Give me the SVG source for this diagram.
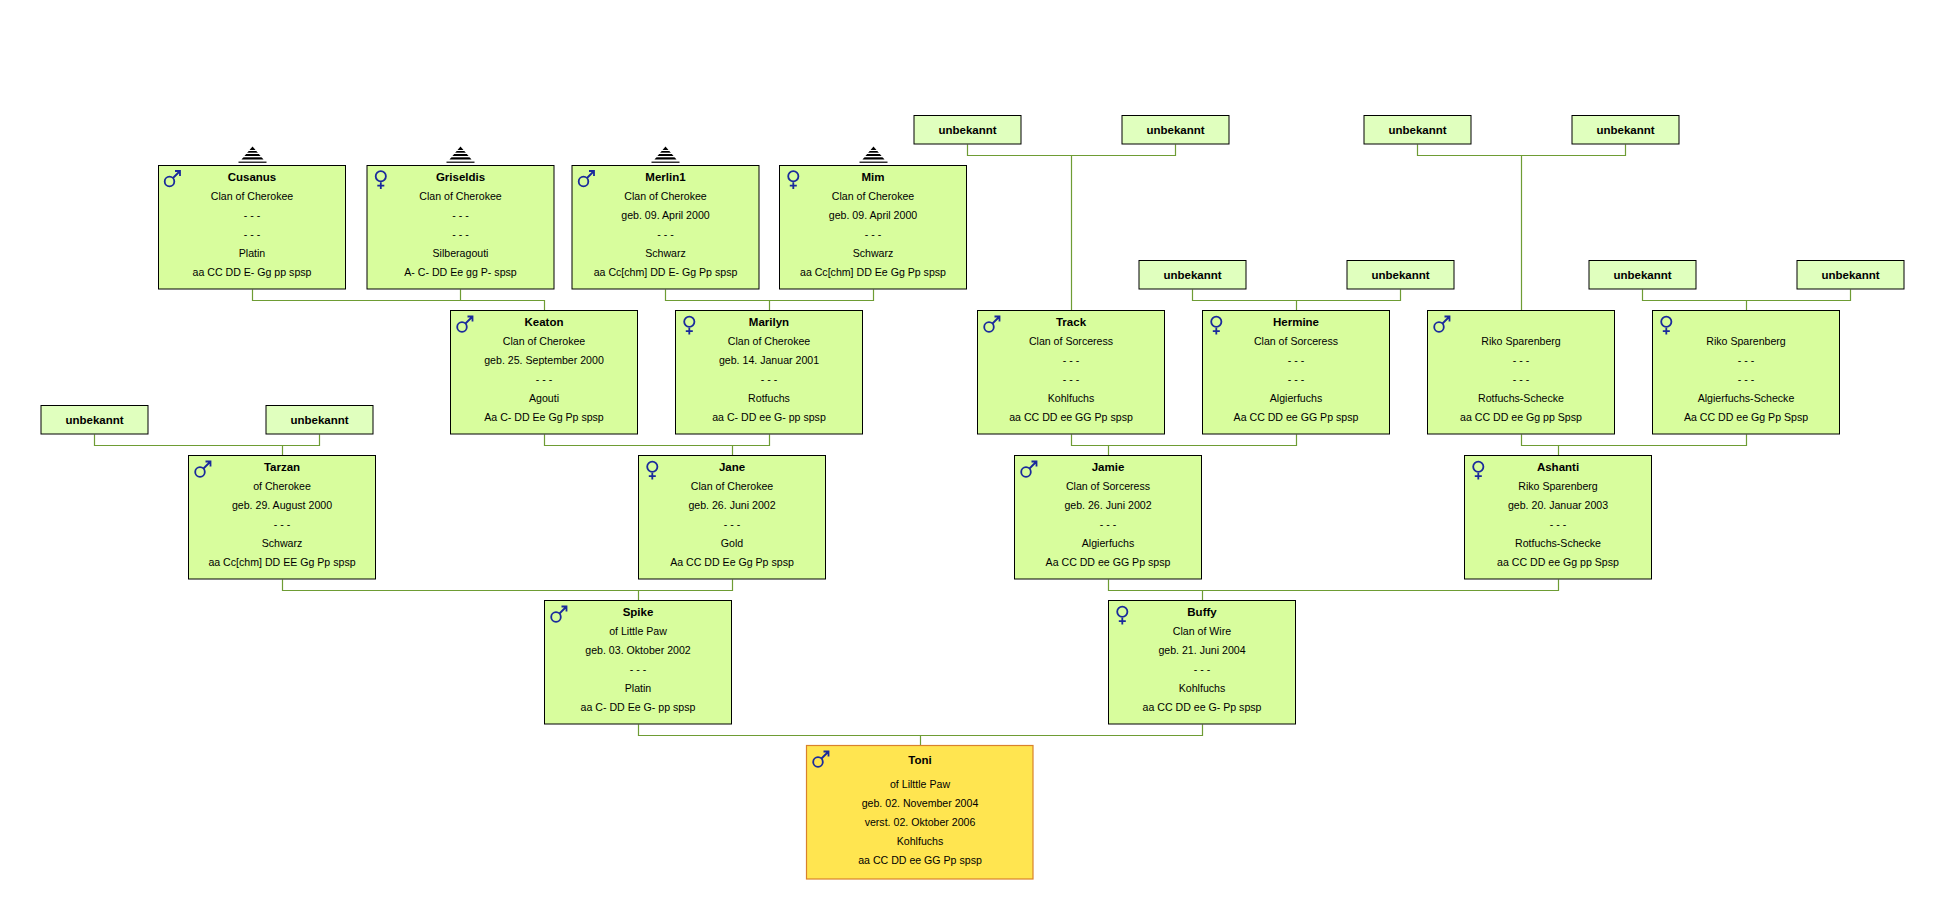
<svg xmlns="http://www.w3.org/2000/svg" xmlns:xlink="http://www.w3.org/1999/xlink" width="1944" height="900" viewBox="0 0 1944 900">
<style>
.box{fill:#d8fd9d;stroke:#000;stroke-width:1}
.ubox{fill:#e0ffbe;stroke:#000;stroke-width:1}
.tbox{fill:#ffe550;stroke:#d9822b;stroke-width:1.2}
.t{font-family:"Liberation Sans",Arial,sans-serif;font-size:10.6px;fill:#000;text-anchor:middle}
.n{font-family:"Liberation Sans",Arial,sans-serif;font-size:11.5px;font-weight:bold;fill:#000;text-anchor:middle}
.c{fill:none;stroke:#6e9c34;stroke-width:1.2}
.sym{fill:none;stroke:#1a2a9c;stroke-width:1.8}
</style>
<defs>
<g id="male" class="sym"><circle cx="11.5" cy="16.5" r="4.8"/><path d="M15 13 L22 6 M17 6 H22 V11"/></g>
<g id="female" class="sym"><circle cx="13.8" cy="11.2" r="5.1"/><path d="M13.8 17.2 V24 M10.3 20.6 H17.3"/></g>
<g id="stack"><polygon points="0,-18.5 -11,-5.6 11,-5.6" fill="#000"/><rect x="-12" y="-15" width="24" height="1" fill="#fff"/><rect x="-12" y="-12.3" width="24" height="1.3" fill="#fff"/><rect x="-12" y="-9" width="24" height="1.3" fill="#fff"/><rect x="-14" y="-3.4" width="28" height="1.2" fill="#000"/></g>
</defs>
<rect width="1944" height="900" fill="#fff"/>
<g id="connectors">
<path class="c" d="M967.5 144.5 V155.5 H1175.5 V144.5 M1071.5 155.5 V310.5"/>
<path class="c" d="M1417.5 144.5 V155.5 H1625.5 V144.5 M1521.5 155.5 V310.5"/>
<path class="c" d="M252.5 289.5 V300.5 H544.5 V310.5 M460.5 289.5 V300.5"/>
<path class="c" d="M665.5 289.5 V300.5 H873.5 V289.5 M769.5 300.5 V310.5"/>
<path class="c" d="M1192.5 289.5 V300.5 H1400.5 V289.5 M1296.5 300.5 V310.5"/>
<path class="c" d="M1642.5 289.5 V300.5 H1850.5 V289.5 M1746.5 300.5 V310.5"/>
<path class="c" d="M94.5 434.5 V445.5 H319.5 V434.5 M282.5 445.5 V455.5"/>
<path class="c" d="M544.5 434.5 V445.5 H769.5 V434.5 M732.5 445.5 V455.5"/>
<path class="c" d="M1071.5 434.5 V445.5 H1296.5 V434.5 M1108.5 445.5 V455.5"/>
<path class="c" d="M1521.5 434.5 V445.5 H1746.5 V434.5 M1558.5 445.5 V455.5"/>
<path class="c" d="M282.5 579.5 V590.5 H732.5 V579.5 M638.5 590.5 V600.5"/>
<path class="c" d="M1108.5 579.5 V590.5 H1558.5 V579.5 M1202.5 590.5 V600.5"/>
<path class="c" d="M638.5 724.5 V735.5 H1202.5 V724.5 M920.5 735.5 V745.5"/>
</g>

<g id="u-track-f"><rect class="ubox" x="914" y="115.5" width="107" height="28.5"/><text class="n" x="967.5" y="134">unbekannt</text></g>
<g id="u-track-m"><rect class="ubox" x="1122" y="115.5" width="107" height="28.5"/><text class="n" x="1175.5" y="134">unbekannt</text></g>
<g id="u-riko1-f"><rect class="ubox" x="1364" y="115.5" width="107" height="28.5"/><text class="n" x="1417.5" y="134">unbekannt</text></g>
<g id="u-riko1-m"><rect class="ubox" x="1572" y="115.5" width="107" height="28.5"/><text class="n" x="1625.5" y="134">unbekannt</text></g>
<g id="u-hermine-f"><rect class="ubox" x="1139" y="260.5" width="107" height="28.5"/><text class="n" x="1192.5" y="279">unbekannt</text></g>
<g id="u-hermine-m"><rect class="ubox" x="1347" y="260.5" width="107" height="28.5"/><text class="n" x="1400.5" y="279">unbekannt</text></g>
<g id="u-riko2-f"><rect class="ubox" x="1589" y="260.5" width="107" height="28.5"/><text class="n" x="1642.5" y="279">unbekannt</text></g>
<g id="u-riko2-m"><rect class="ubox" x="1797" y="260.5" width="107" height="28.5"/><text class="n" x="1850.5" y="279">unbekannt</text></g>
<g id="u-tarzan-f"><rect class="ubox" x="41" y="405.5" width="107" height="28.5"/><text class="n" x="94.5" y="424">unbekannt</text></g>
<g id="u-tarzan-m"><rect class="ubox" x="266" y="405.5" width="107" height="28.5"/><text class="n" x="319.5" y="424">unbekannt</text></g>

<g id="cusanus"><use xlink:href="#stack" x="252.5" y="165"/><rect class="box" x="158.5" y="165.5" width="187" height="123.5"/><use xlink:href="#male" x="158" y="165"/>
<text class="n" x="252" y="181">Cusanus</text><text class="t" x="252" y="200">Clan of Cherokee</text><text class="t" x="252" y="219">- - -</text><text class="t" x="252" y="238">- - -</text><text class="t" x="252" y="257">Platin</text><text class="t" x="252" y="276">aa CC DD E- Gg pp spsp</text></g>

<g id="griseldis"><use xlink:href="#stack" x="460.5" y="165"/><rect class="box" x="367" y="165.5" width="187" height="123.5"/><use xlink:href="#female" x="367" y="165"/>
<text class="n" x="460.5" y="181">Griseldis</text><text class="t" x="460.5" y="200">Clan of Cherokee</text><text class="t" x="460.5" y="219">- - -</text><text class="t" x="460.5" y="238">- - -</text><text class="t" x="460.5" y="257">Silberagouti</text><text class="t" x="460.5" y="276">A- C- DD Ee gg P- spsp</text></g>

<g id="merlin1"><use xlink:href="#stack" x="665.5" y="165"/><rect class="box" x="572" y="165.5" width="187" height="123.5"/><use xlink:href="#male" x="572" y="165"/>
<text class="n" x="665.5" y="181">Merlin1</text><text class="t" x="665.5" y="200">Clan of Cherokee</text><text class="t" x="665.5" y="219">geb. 09. April 2000</text><text class="t" x="665.5" y="238">- - -</text><text class="t" x="665.5" y="257">Schwarz</text><text class="t" x="665.5" y="276">aa Cc[chm] DD E- Gg Pp spsp</text></g>

<g id="mim"><use xlink:href="#stack" x="873.5" y="165"/><rect class="box" x="779.5" y="165.5" width="187" height="123.5"/><use xlink:href="#female" x="779.5" y="165"/>
<text class="n" x="873" y="181">Mim</text><text class="t" x="873" y="200">Clan of Cherokee</text><text class="t" x="873" y="219">geb. 09. April 2000</text><text class="t" x="873" y="238">- - -</text><text class="t" x="873" y="257">Schwarz</text><text class="t" x="873" y="276">aa Cc[chm] DD Ee Gg Pp spsp</text></g>

<g id="keaton"><rect class="box" x="450.5" y="310.5" width="187" height="123.5"/><use xlink:href="#male" x="450.5" y="310.5"/>
<text class="n" x="544" y="326">Keaton</text><text class="t" x="544" y="345">Clan of Cherokee</text><text class="t" x="544" y="364">geb. 25. September 2000</text><text class="t" x="544" y="383">- - -</text><text class="t" x="544" y="402">Agouti</text><text class="t" x="544" y="421">Aa C- DD Ee Gg Pp spsp</text></g>

<g id="marilyn"><rect class="box" x="675.5" y="310.5" width="187" height="123.5"/><use xlink:href="#female" x="675.5" y="310.5"/>
<text class="n" x="769" y="326">Marilyn</text><text class="t" x="769" y="345">Clan of Cherokee</text><text class="t" x="769" y="364">geb. 14. Januar 2001</text><text class="t" x="769" y="383">- - -</text><text class="t" x="769" y="402">Rotfuchs</text><text class="t" x="769" y="421">aa C- DD ee G- pp spsp</text></g>

<g id="track"><rect class="box" x="977.5" y="310.5" width="187" height="123.5"/><use xlink:href="#male" x="977.5" y="310.5"/>
<text class="n" x="1071" y="326">Track</text><text class="t" x="1071" y="345">Clan of Sorceress</text><text class="t" x="1071" y="364">- - -</text><text class="t" x="1071" y="383">- - -</text><text class="t" x="1071" y="402">Kohlfuchs</text><text class="t" x="1071" y="421">aa CC DD ee GG Pp spsp</text></g>

<g id="hermine"><rect class="box" x="1202.5" y="310.5" width="187" height="123.5"/><use xlink:href="#female" x="1202.5" y="310.5"/>
<text class="n" x="1296" y="326">Hermine</text><text class="t" x="1296" y="345">Clan of Sorceress</text><text class="t" x="1296" y="364">- - -</text><text class="t" x="1296" y="383">- - -</text><text class="t" x="1296" y="402">Algierfuchs</text><text class="t" x="1296" y="421">Aa CC DD ee GG Pp spsp</text></g>

<g id="riko-m"><rect class="box" x="1427.5" y="310.5" width="187" height="123.5"/><use xlink:href="#male" x="1427.5" y="310.5"/>
<text class="t" x="1521" y="345">Riko Sparenberg</text><text class="t" x="1521" y="364">- - -</text><text class="t" x="1521" y="383">- - -</text><text class="t" x="1521" y="402">Rotfuchs-Schecke</text><text class="t" x="1521" y="421">aa CC DD ee Gg pp Spsp</text></g>

<g id="riko-f"><rect class="box" x="1652.5" y="310.5" width="187" height="123.5"/><use xlink:href="#female" x="1652.5" y="310.5"/>
<text class="t" x="1746" y="345">Riko Sparenberg</text><text class="t" x="1746" y="364">- - -</text><text class="t" x="1746" y="383">- - -</text><text class="t" x="1746" y="402">Algierfuchs-Schecke</text><text class="t" x="1746" y="421">Aa CC DD ee Gg Pp Spsp</text></g>

<g id="tarzan"><rect class="box" x="188.5" y="455.5" width="187" height="123.5"/><use xlink:href="#male" x="188.5" y="455.5"/>
<text class="n" x="282" y="471">Tarzan</text><text class="t" x="282" y="490">of Cherokee</text><text class="t" x="282" y="509">geb. 29. August 2000</text><text class="t" x="282" y="528">- - -</text><text class="t" x="282" y="547">Schwarz</text><text class="t" x="282" y="566">aa Cc[chm] DD EE Gg Pp spsp</text></g>

<g id="jane"><rect class="box" x="638.5" y="455.5" width="187" height="123.5"/><use xlink:href="#female" x="638.5" y="455.5"/>
<text class="n" x="732" y="471">Jane</text><text class="t" x="732" y="490">Clan of Cherokee</text><text class="t" x="732" y="509">geb. 26. Juni 2002</text><text class="t" x="732" y="528">- - -</text><text class="t" x="732" y="547">Gold</text><text class="t" x="732" y="566">Aa CC DD Ee Gg Pp spsp</text></g>

<g id="jamie"><rect class="box" x="1014.5" y="455.5" width="187" height="123.5"/><use xlink:href="#male" x="1014.5" y="455.5"/>
<text class="n" x="1108" y="471">Jamie</text><text class="t" x="1108" y="490">Clan of Sorceress</text><text class="t" x="1108" y="509">geb. 26. Juni 2002</text><text class="t" x="1108" y="528">- - -</text><text class="t" x="1108" y="547">Algierfuchs</text><text class="t" x="1108" y="566">Aa CC DD ee GG Pp spsp</text></g>

<g id="ashanti"><rect class="box" x="1464.5" y="455.5" width="187" height="123.5"/><use xlink:href="#female" x="1464.5" y="455.5"/>
<text class="n" x="1558" y="471">Ashanti</text><text class="t" x="1558" y="490">Riko Sparenberg</text><text class="t" x="1558" y="509">geb. 20. Januar 2003</text><text class="t" x="1558" y="528">- - -</text><text class="t" x="1558" y="547">Rotfuchs-Schecke</text><text class="t" x="1558" y="566">aa CC DD ee Gg pp Spsp</text></g>

<g id="spike"><rect class="box" x="544.5" y="600.5" width="187" height="123.5"/><use xlink:href="#male" x="544.5" y="600.5"/>
<text class="n" x="638" y="616">Spike</text><text class="t" x="638" y="635">of Little Paw</text><text class="t" x="638" y="654">geb. 03. Oktober 2002</text><text class="t" x="638" y="673">- - -</text><text class="t" x="638" y="692">Platin</text><text class="t" x="638" y="711">aa C- DD Ee G- pp spsp</text></g>

<g id="buffy"><rect class="box" x="1108.5" y="600.5" width="187" height="123.5"/><use xlink:href="#female" x="1108.5" y="600.5"/>
<text class="n" x="1202" y="616">Buffy</text><text class="t" x="1202" y="635">Clan of Wire</text><text class="t" x="1202" y="654">geb. 21. Juni 2004</text><text class="t" x="1202" y="673">- - -</text><text class="t" x="1202" y="692">Kohlfuchs</text><text class="t" x="1202" y="711">aa CC DD ee G- Pp spsp</text></g>

<g id="toni"><rect class="tbox" x="806.5" y="745.5" width="226.5" height="133.5"/><use xlink:href="#male" x="806.5" y="745.5"/>
<text class="n" x="920" y="764">Toni</text><text class="t" x="920" y="788">of Lilttle Paw</text><text class="t" x="920" y="807">geb. 02. November 2004</text><text class="t" x="920" y="826">verst. 02. Oktober 2006</text><text class="t" x="920" y="845">Kohlfuchs</text><text class="t" x="920" y="864">aa CC DD ee GG Pp spsp</text></g>
</svg>
